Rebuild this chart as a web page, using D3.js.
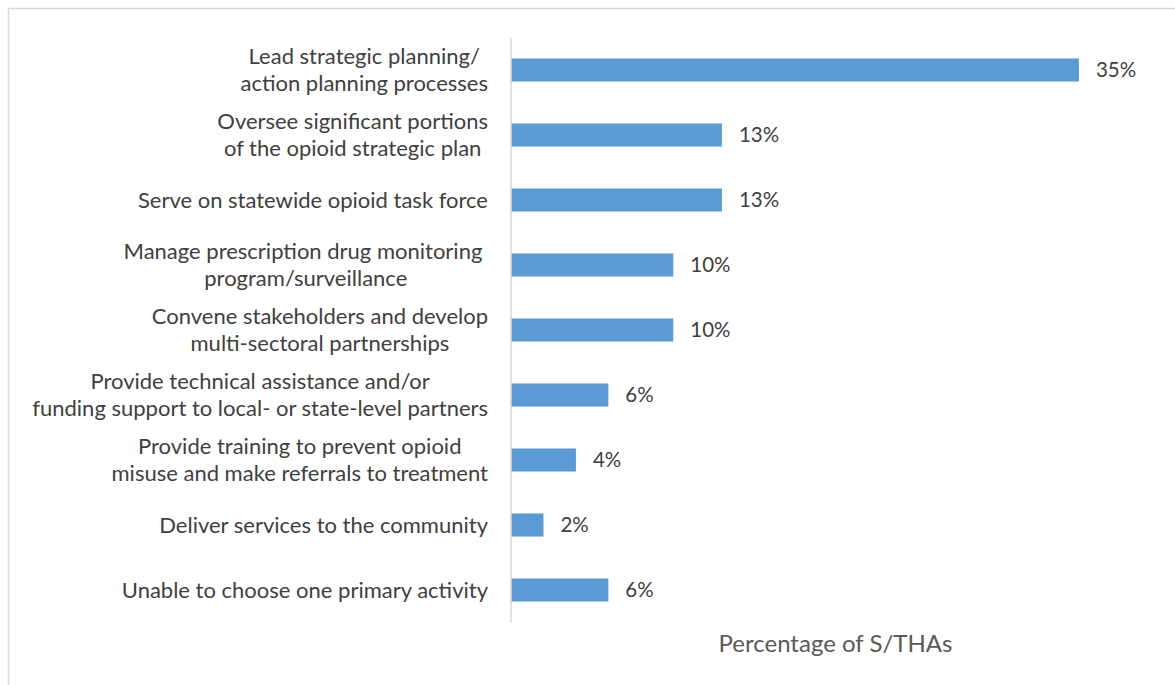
<!DOCTYPE html>
<html>
<head>
<meta charset="utf-8">
<script src="https://cdn.jsdelivr.net/npm/d3@7"></script>
<style>
  body { margin: 0; background: #fff; }
  svg { display: block; font-family: Lato, "Open Sans", sans-serif; }
</style>
</head>
<body>
<svg width="1175" height="685"></svg>
<script>
const categories = [
  ["Lead strategic planning/", "action planning processes"],
  ["Oversee significant portions", "of the opioid strategic plan"],
  ["Serve on statewide opioid task force"],
  ["Manage prescription drug monitoring\u00a0", "program/surveillance"],
  ["Convene stakeholders and develop", "multi-sectoral partnerships"],
  ["Provide technical assistance and/or", "funding support to local- or state-level partners"],
  ["Provide training to prevent opioid", "misuse and make referrals to treatment"],
  ["Deliver services to the community"],
  ["Unable to choose one primary activity"],
];
const values = [35, 13, 13, 10, 10, 6, 4, 2, 6];
const axisTitle = "Percentage of S/THAs";

const width = 1175;
const height = 685;
const svg = d3.select("svg");

// chart border (only top and left edges are inside the frame)
svg.append("rect")
  .attr("x", 8.5).attr("y", 8.5)
  .attr("width", width).attr("height", height)
  .attr("fill", "none")
  .attr("stroke", "#d9d9d9")
  .attr("stroke-width", 1.5);

const x = d3.scaleLinear().domain([0, 40]).range([511, 1160]);
const y = d3.scaleBand()
  .domain(d3.range(values.length))
  .range([37.5, 622.5])
  .paddingInner(0.645)
  .paddingOuter(0.3225);

// bars
svg.selectAll("rect.bar")
  .data(values)
  .enter()
  .append("rect")
  .attr("class", "bar")
  .attr("x", x(0))
  .attr("y", (d, i) => y(i))
  .attr("width", d => x(d) - x(0))
  .attr("height", y.bandwidth())
  .attr("fill", "#5b9bd5");

// vertical axis line
svg.append("line")
  .attr("x1", x(0)).attr("x2", x(0))
  .attr("y1", y.range()[0]).attr("y2", y.range()[1])
  .attr("stroke", "#d9d9d9")
  .attr("stroke-width", 1.5);

// value labels
svg.selectAll("text.val")
  .data(values)
  .enter()
  .append("text")
  .attr("class", "val")
  .attr("x", d => x(d) + 17)
  .attr("y", (d, i) => y(i) + y.bandwidth() / 2)
  .attr("dy", "0.35em")
  .attr("font-size", 20.5)
  .attr("fill", "#404040")
  .text(d => d + "%");

// category labels: lines centred on each other, block right aligned
const labelRight = 488;
const lineH = 27;
categories.forEach((lines, i) => {
  const cy = y(i) + y.bandwidth() / 2;
  const g = svg.append("g");
  const texts = g.selectAll("text")
    .data(lines)
    .enter()
    .append("text")
    .attr("font-size", 22)
    .attr("fill", "#404040")
    .attr("text-anchor", "middle")
    .attr("y", (d, j) => cy + (j - (lines.length - 1) / 2) * lineH)
    .attr("dy", "0.35em")
    .text(d => d);
  let maxW = 0;
  texts.each(function () { maxW = Math.max(maxW, this.getComputedTextLength()); });
  texts.attr("x", labelRight - maxW / 2);
});

// axis title
svg.append("text")
  .attr("x", (x.range()[0] + x.range()[1]) / 2)
  .attr("y", 652)
  .attr("text-anchor", "middle")
  .attr("font-size", 24)
  .attr("fill", "#595959")
  .text(axisTitle);
</script>
</body>
</html>
